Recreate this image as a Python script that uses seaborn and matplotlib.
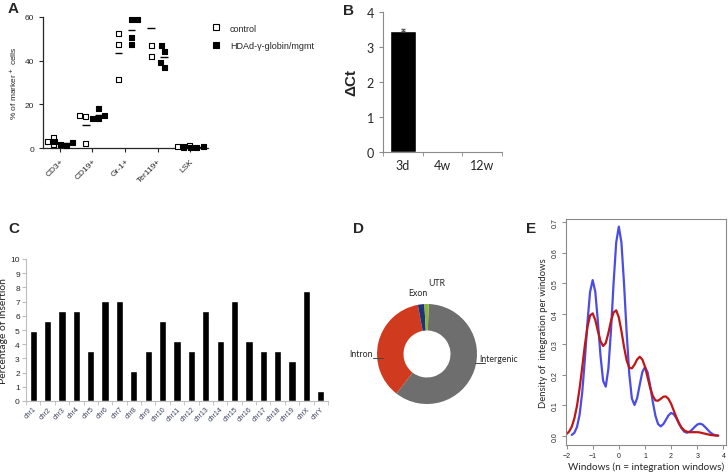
import numpy as np
import pandas as pd
import matplotlib
matplotlib.use('Agg')
import matplotlib.pyplot as plt
from matplotlib.lines import Line2D
import seaborn as sns

sns.set_style('ticks')
plt.rcParams['font.family'] = ['Liberation Sans', 'DejaVu Sans']
CAL = ['Lato', 'DejaVu Sans']  # stands in for the Calibri-like text of panels B-E

# --- A: % of marker+ cells per mouse
a_markers = ['CD3+', 'CD19+', 'Gr-1+', 'Ter119+', 'LSK']
a_groups = ['control', 'HDAd-γ-globin/mgmt']
a_control = [[4.8, 2.9, 1.4], [14.8, 14.2, 2.1], [52.4, 47.3, 31.4], [47.0, 42.1], [1.0, 0.5, 0.3]]
a_hdad = [[2.3, 1.5, 1.3, 3.2], [18.0, 14.8, 13.3, 13.5], [58.9, 58.8, 47.5, 50.8],
          [47.0, 44.4, 36.7, 39.0], [0.4, 0.3, 0.5, 0.6]]
a_control_mean = [3.0, 10.4, 43.7, 55.0, 0.6]
a_hdad_mean = [2.1, 14.9, 54.0, 41.8, 0.45]

# --- B: delta Ct
b_times = ['3d', '4w', '12w']
b_dct = [3.45, 0, 0]
b_err = [0.07, 0, 0]

# --- C: insertion per chromosome
c_chroms = ['chr' + str(i) for i in range(1, 20)] + ['chrX', 'chrY']
c_pct = [4.93, 5.63, 6.34, 6.34, 3.52, 7.04, 7.04, 2.11, 3.52, 5.63, 4.23,
         3.52, 6.34, 4.23, 7.04, 4.23, 3.52, 3.52, 2.82, 7.75, 0.70]

# --- D: genomic regions
d_regions = ['Intergenic', 'Intron', 'Exon', 'UTR']
d_share = [59.9, 36.6, 2.1, 1.4]
d_colors = ['#6e6e6e', '#d03b20', '#1c3479', '#8bb43a']

# --- E: density of integration per window
e_windows = [-2.0, -1.9, -1.8, -1.7, -1.6, -1.5, -1.4, -1.3, -1.2, -1.1, -1.0, -0.9, -0.8, -0.7,
             -0.6, -0.5, -0.4, -0.3, -0.2, -0.1, 0.0, 0.1, 0.2, 0.3, 0.4, 0.5, 0.6, 0.7, 0.8,
             0.9, 1.0, 1.1, 1.2, 1.3, 1.4, 1.5, 1.6, 1.7, 1.8, 1.9, 2.0, 2.1, 2.2, 2.3, 2.4,
             2.5, 2.6, 2.7, 2.8, 2.9, 3.0, 3.1, 3.2, 3.3, 3.4, 3.5, 3.6, 3.7, 3.8]
e_blue = [np.nan, np.nan, 0.003, 0.010, 0.029, 0.069, 0.142, 0.248, 0.370, 0.471, 0.510, 0.472,
          0.374, 0.262, 0.180, 0.161, 0.219, 0.344, 0.500, 0.633, 0.685, 0.633, 0.498, 0.338,
          0.203, 0.122, 0.101, 0.123, 0.167, 0.209, 0.225, 0.208, 0.164, 0.111, 0.066, 0.039,
          0.031, 0.038, 0.052, 0.067, 0.075, 0.071, 0.058, 0.040, 0.025, 0.014, 0.010, 0.013,
          0.020, 0.029, 0.037, 0.040, 0.037, 0.029, 0.020, 0.011, 0.005, 0.002, 0.001]
e_red = [0.006, 0.014, 0.030, 0.057, 0.098, 0.155, 0.224, 0.296, 0.356, 0.394, 0.401, 0.379,
         0.343, 0.310, 0.294, 0.304, 0.336, 0.376, 0.404, 0.411, 0.388, 0.343, 0.291, 0.247,
         0.223, 0.221, 0.233, 0.250, 0.259, 0.250, 0.227, 0.192, 0.157, 0.131, 0.116, 0.115,
         0.121, 0.128, 0.129, 0.121, 0.105, 0.083, 0.061, 0.042, 0.027, 0.018, 0.014, 0.012,
         0.012, 0.012, 0.012, 0.011, 0.009, 0.007, 0.005, 0.003, 0.002, 0.001, 0.0005]

W, H = 728, 477
fig = plt.figure(figsize=(W / 100, H / 100), dpi=100)


def rect(x0, y0, x1, y1):
    # pixel box (top-left origin) -> figure fraction
    return [x0 / W, 1 - y1 / H, (x1 - x0) / W, (y1 - y0) / H]


# ---------------- A
rows = []
for m, vals in zip(a_markers, a_control):
    rows += [(m, a_groups[0], v) for v in vals]
for m, vals in zip(a_markers, a_hdad):
    rows += [(m, a_groups[1], v) for v in vals]
dfA = pd.DataFrame(rows, columns=['marker', 'group', 'pct'])

axA = fig.add_axes(rect(43, 18, 208, 149))
sns.swarmplot(data=dfA, x='marker', y='pct', hue='group', order=a_markers, hue_order=a_groups,
              dodge=True, marker='s', size=3.6, linewidth=0.8, edgecolor='black',
              palette={a_groups[0]: 'white', a_groups[1]: 'black'}, legend=False, ax=axA)
for coll in axA.collections:
    coll.set_clip_on(False)
for i in range(len(a_markers)):
    axA.hlines(a_control_mean[i], i - 0.32, i - 0.08, color='black', lw=1)
    axA.hlines(a_hdad_mean[i], i + 0.08, i + 0.32, color='black', lw=1)
axA.set_ylim(0, 60)
axA.set_yticks([0, 20, 40, 60])
axA.set_xlim(-0.52, 4.55)
axA.set_xticks(range(5))
axA.set_xticklabels(a_markers, rotation=45, ha='right', rotation_mode='anchor', fontsize=6)
axA.tick_params(axis='y', labelsize=6, length=3, width=0.8)
axA.tick_params(axis='x', length=3, width=0.8)
axA.set_xlabel('')
axA.set_ylabel('% of marker$^+$ cells', fontsize=6, labelpad=4)
sns.despine(ax=axA)
for s in ['left', 'bottom']:
    axA.spines[s].set_linewidth(0.9)

handles = [Line2D([], [], marker='s', ls='', mfc='white', mec='black', ms=5, mew=0.8),
           Line2D([], [], marker='s', ls='', mfc='black', mec='black', ms=5, mew=0.8)]
fig.legend(handles, a_groups, loc='upper left', bbox_to_anchor=(203 / W, 1 - 21 / H),
           frameon=False, fontsize=6.5, handletextpad=0.6, labelspacing=0.9, borderaxespad=0)

# ---------------- B
axB = fig.add_axes(rect(383, 13, 502, 153))
sns.barplot(x=b_times, y=b_dct, color='black', saturation=1, width=0.65, ax=axB)
axB.errorbar([0], b_dct[:1], yerr=[[0], b_err[:1]], fmt='none', ecolor='#555555',
             elinewidth=0.8, capsize=1.5)
axB.set_ylim(0, 4)
axB.set_yticks([0, 1, 2, 3, 4])
axB.set_xlim(-0.5, 2.5)
axB.set_xticks([-0.5, 0.5, 1.5, 2.5], minor=True)
axB.tick_params(axis='x', which='major', length=0, labelsize=9, pad=5)
axB.tick_params(axis='x', which='minor', length=3, color='#8a8a8a')
axB.tick_params(axis='y', labelsize=9, length=3, color='#8a8a8a')
axB.set_ylabel('ΔCt', fontsize=11, fontweight='bold', labelpad=6)
sns.despine(ax=axB)
for s in ['left', 'bottom']:
    axB.spines[s].set_color('#8a8a8a')
for lab in axB.get_xticklabels() + axB.get_yticklabels():
    lab.set_family(CAL)

# ---------------- C
axC = fig.add_axes(rect(26, 260, 328, 402))
sns.barplot(x=c_chroms, y=c_pct, color='black', saturation=1, width=0.5, ax=axC)
axC.set_ylim(0, 10)
axC.set_yticks(range(11))
axC.set_xlim(-0.5, 20.5)
axC.set_xticks(np.arange(-0.5, 21, 1), minor=True)
axC.tick_params(axis='x', which='major', length=0, pad=3)
axC.tick_params(axis='x', which='minor', length=3, color='#bdbdbd')
axC.tick_params(axis='y', labelsize=6, length=3, color='#bdbdbd', pad=1.5)
axC.set_xticklabels(c_chroms, rotation=45, ha='right', rotation_mode='anchor',
                    fontsize=5, color='#3b405c')
axC.set_ylabel('Percentage of insertion', fontsize=7.5, labelpad=1.5, family=CAL)
sns.despine(ax=axC)
for s in ['left', 'bottom']:
    axC.spines[s].set_color('#bdbdbd')

# ---------------- D
axD = fig.add_axes(rect(367, 295, 487, 415))
axD.pie(d_share, colors=d_colors, startangle=88, counterclock=False, radius=1,
        wedgeprops=dict(width=0.53, edgecolor='none'))
axD.set_xlim(-1.2, 1.2)
axD.set_ylim(-1.2, 1.2)
axD.set_aspect('equal')
axD.axis('off')
lab_kw = dict(fontsize=6.3, family=CAL, va='baseline', clip_on=False)
axD.text(-1.09, -0.05, d_regions[1], ha='right', **lab_kw)
axD.plot([-1.08, -0.88], [-0.07, -0.07], color='#444444', lw=0.7, clip_on=False)
axD.text(1.04, -0.15, d_regions[0], ha='left', **lab_kw)
axD.plot([0.96, 1.16], [-0.17, -0.17], color='#444444', lw=0.7, clip_on=False)
axD.text(-0.38, 1.18, d_regions[2], ha='left', **lab_kw)
axD.text(0.02, 1.38, d_regions[3], ha='left', **lab_kw)

# ---------------- E
axE = fig.add_axes(rect(566, 220, 726, 446))
sns.lineplot(x=e_windows, y=e_blue, color='#4b4be8', lw=1.6, ax=axE)
sns.lineplot(x=e_windows, y=e_red, color='#c01616', lw=1.6, ax=axE)
axE.set_xlim(-2.02, 4.1)
axE.set_ylim(-0.03, 0.71)
axE.set_xticks([-2, -1, 0, 1, 2, 3, 4])
axE.set_yticks([0, 0.1, 0.2, 0.3, 0.4, 0.5, 0.6, 0.7])
axE.set_yticklabels(['0.0', '0.1', '0.2', '0.3', '0.4', '0.5', '0.6', '0.7'],
                    rotation=90, va='center')
axE.tick_params(labelsize=5, length=3, color='#777777', width=0.6, pad=2)
for s in axE.spines.values():
    s.set_color('#8a8a8a')
    s.set_linewidth(0.8)
axE.set_ylabel('Density of  integration per windows', fontsize=6.8, labelpad=3, family=CAL)
axE.set_xlabel('Windows (n = integration windows)', fontsize=7.2, labelpad=2, family=CAL)

# panel letters
for letter, (px, py) in zip('ABCDE', [(8, 2), (343, 4), (8, 222), (353, 222), (526, 222)]):
    fig.text(px / W, 1 - py / H, letter, fontsize=11, fontweight='bold', ha='left', va='top')

fig.savefig('out.png', dpi=100)
